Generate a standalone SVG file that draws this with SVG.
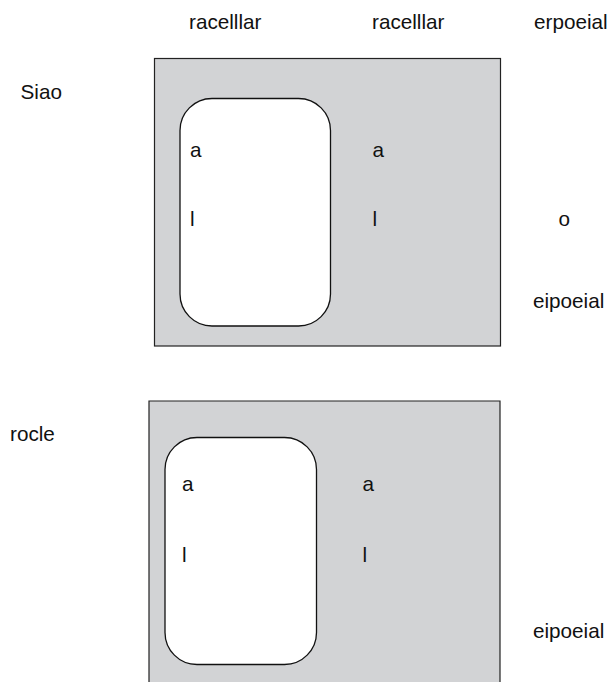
<svg xmlns="http://www.w3.org/2000/svg" width="611" height="682" viewBox="0 0 611 682">
<style>
text{font-family:"Liberation Sans",Arial,Helvetica,sans-serif;font-size:20.7px;fill:#111}
.panel{fill:#d2d3d5;stroke:#222;stroke-width:1.2}
.inner{fill:#fff;stroke:#111;stroke-width:1.3}
</style>
<rect width="611" height="682" fill="#fff"/>
<g id="labels">
<text x="189" y="28.5">racelllar</text>
<text x="372" y="28.5">racelllar</text>
<text x="534" y="28.5">erpoeial</text>
<text x="20.5" y="99">Siao</text>
<text x="558.5" y="226">o</text>
<text x="533" y="308">eipoeial</text>
<text x="10" y="441">rocle</text>
<text x="533" y="638">eipoeial</text>
</g>
<g id="panel1">
<rect class="panel" x="154.5" y="58.5" width="346" height="287.5"/>
<g id="panel1-inner">
<rect class="inner" x="180" y="98.5" width="150.5" height="227.5" rx="32" ry="32"/>
<text x="190" y="157">a</text>
<text x="190" y="226">l</text>
</g>
<g id="panel1-outer-items">
<text x="372.5" y="157">a</text>
<text x="372.5" y="226">l</text>
</g>
</g>
<g id="panel2">
<rect x="149" y="401" width="351" height="281" fill="#d2d3d5"/>
<path d="M149 682 V401 H500 V682" fill="none" stroke="#222" stroke-width="1.2"/>
<g id="panel2-inner">
<rect class="inner" x="165" y="437.5" width="151.5" height="227" rx="32" ry="32"/>
<text x="182" y="491">a</text>
<text x="182" y="562">l</text>
</g>
<g id="panel2-outer-items">
<text x="362.5" y="491">a</text>
<text x="362.5" y="562">l</text>
</g>
</g>
<g id="connectors"></g>
</svg>
